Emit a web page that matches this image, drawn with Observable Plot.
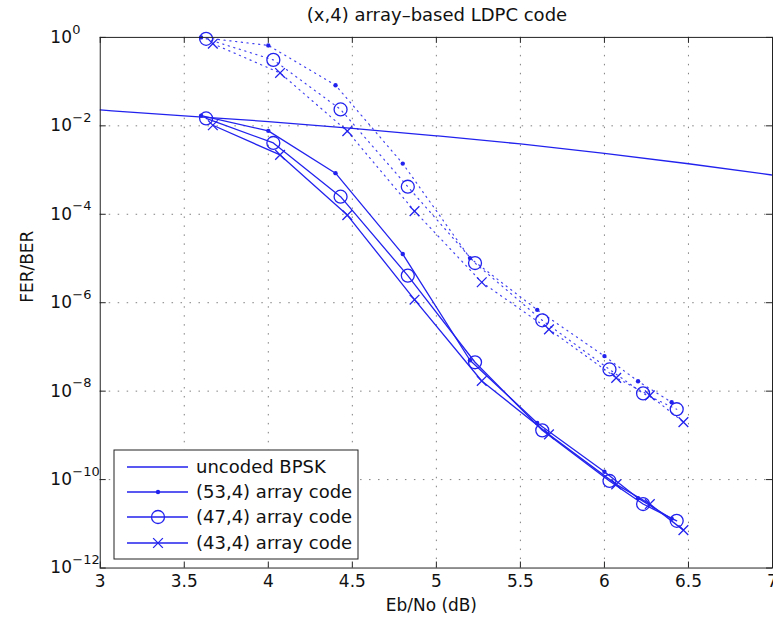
<!DOCTYPE html>
<html><head><meta charset="utf-8">
<script src="https://cdn.jsdelivr.net/npm/d3@7"></script>
<script src="https://cdn.jsdelivr.net/npm/@observablehq/plot@0.6"></script>
<style>
html,body{margin:0;padding:0;background:#fff;overflow:hidden;}
#wrap{position:relative;width:773px;height:635px;overflow:hidden;}
#chart{position:absolute;left:0;top:0;}
#title{position:absolute;left:100px;width:674px;top:5px;line-height:20px;text-align:center;font-family:"DejaVu Sans";font-size:18px;color:#111;}
#legend{position:absolute;left:113px;top:449px;}
</style></head><body>
<div id="wrap"><div id="chart"></div><div id="title">(x,4) array–based LDPC code</div><svg id="legend" width="246" height="111"></svg></div>
<script>
// ---- data ----
const xTicks = [3, 3.5, 4, 4.5, 5, 5.5, 6, 6.5, 7];
const xTickLabels = ["3", "3.5", "4", "4.5", "5", "5.5", "6", "6.5", "7"];
const yTicks = [1, 1e-2, 1e-4, 1e-6, 1e-8, 1e-10, 1e-12];
const yTickExp = ["0", "−2", "−4", "−6", "−8", "−10", "−12"];

const bpskX = [3, 3.5, 4, 4.5, 5, 5.5, 6, 6.5, 7];
const bpskY = [2.29e-2, 1.68e-2, 1.25e-2, 8.8e-3, 5.95e-3, 3.9e-3, 2.39e-3, 1.39e-3, 7.7e-4];

const x53 = [3.6, 4.0, 4.4, 4.8, 5.2, 5.6, 6.0, 6.2, 6.4];
const ber53 = [1.7e-2, 7.7e-3, 8.5e-4, 1.26e-5, 5e-8, 1.9e-9, 1.5e-10, 3.8e-11, 1.3e-11];
const fer53 = [1.0, 0.66, 0.083, 1.4e-3, 1.02e-5, 6.9e-7, 6.2e-8, 1.67e-8, 5.6e-9];

const x47 = [3.63, 4.03, 4.43, 4.83, 5.23, 5.63, 6.03, 6.23, 6.43];
const ber47 = [1.47e-2, 4.1e-3, 2.5e-4, 4.1e-6, 4.5e-8, 1.3e-9, 9.3e-11, 2.8e-11, 1.17e-11];
const fer47 = [0.93, 0.31, 0.0235, 4.2e-4, 7.9e-6, 4e-7, 3.1e-8, 8.9e-9, 3.9e-9];

const x43 = [3.67, 4.07, 4.47, 4.87, 5.27, 5.67, 6.07, 6.27, 6.47];
const ber43 = [1.03e-2, 2.2e-3, 9.6e-5, 1.17e-6, 1.7e-8, 1.05e-9, 7.8e-11, 2.8e-11, 7.2e-12];
const fer43 = [0.72, 0.157, 7.6e-3, 1.18e-4, 2.9e-6, 2.5e-7, 2.0e-8, 8e-9, 2e-9];

const legendLabels = ["uncoded BPSK", "(53,4) array code", "(47,4) array code", "(43,4) array code"];
const titleText = "(x,4) array–based LDPC code";
const xLabel = "Eb/No (dB)";
const yLabel = "FER/BER";

// ---- build ----
const blue = "#2222ee";
const rows = (xs, ys) => xs.map((x, i) => ({x, y: ys[i]}));
const bpsk = rows(bpskX, bpskY);
const b53 = rows(x53, ber53), f53 = rows(x53, fer53);
const b47 = rows(x47, ber47), f47 = rows(x47, fer47);
const b43 = rows(x43, ber43), f43 = rows(x43, fer43);
const yTickRows = yTicks.map((v, i) => ({v, e: yTickExp[i]}));
const xTickRows = xTicks.map((v, i) => ({v, t: xTickLabels[i]}));

const W = 775, H = 635, mL = 100, mR = 1, mT = 37, mB = 66;
const pw = W - mL - mR, ph = H - mT - mB;
const gridStyle = {stroke: "#808080", strokeWidth: 1, strokeDasharray: "1.5,7.5"};
const solid = {x: "x", y: "y", stroke: blue, strokeWidth: 1.3};
const dotted = {x: "x", y: "y", stroke: blue, strokeWidth: 1.2, strokeDasharray: "1.2,4.6", strokeOpacity: 0.85};

const plot = Plot.plot({
  width: W, height: H,
  marginLeft: mL, marginRight: mR, marginTop: mT, marginBottom: mB,
  style: {fontFamily: "DejaVu Sans", fontSize: "17px", color: "#111", background: "transparent", overflow: "visible"},
  x: {domain: [3, 7], axis: null},
  y: {type: "log", domain: [1e-12, 1], axis: null},
  marks: [
    Plot.ruleX(xTicks.slice(1, -1), gridStyle),
    Plot.ruleY(yTicks.slice(1, -1), gridStyle),
    Plot.line(bpsk, {...solid, curve: "monotone-x"}),
    Plot.line(b53, solid), Plot.line(b47, solid), Plot.line(b43, solid),
    Plot.line(f53, dotted), Plot.line(f47, dotted), Plot.line(f43, dotted),
    Plot.dot(b53, {x: "x", y: "y", r: 2.2, fill: blue}),
    Plot.dot(f53, {x: "x", y: "y", r: 2.2, fill: blue}),
    Plot.dot(b47, {x: "x", y: "y", r: 6.5, stroke: blue, strokeWidth: 1.3, fill: "none"}),
    Plot.dot(f47, {x: "x", y: "y", r: 6.5, stroke: blue, strokeWidth: 1.3, fill: "none"}),
    Plot.dot(b43, {x: "x", y: "y", r: 4.5, symbol: "times", stroke: blue, strokeWidth: 1.3}),
    Plot.dot(f43, {x: "x", y: "y", r: 4.5, symbol: "times", stroke: blue, strokeWidth: 1.3}),
    Plot.frame({stroke: "#222", strokeWidth: 1}),
    Plot.ruleX(xTicks, {stroke: "#222", insetTop: ph - 6}),
    Plot.ruleX(xTicks, {stroke: "#222", insetBottom: ph - 6}),
    Plot.ruleY(yTicks, {stroke: "#222", insetRight: pw - 6}),
    Plot.ruleY(yTicks, {stroke: "#222", insetLeft: pw - 6}),
    Plot.text(xTickRows, {x: "v", text: "t", frameAnchor: "bottom", dy: 19, fontSize: 17, fill: "#111"}),
    Plot.text(yTickRows, {y: "v", text: () => "10", frameAnchor: "left", dx: -50, textAnchor: "start", fontSize: 17, fill: "#111"}),
    Plot.text(yTickRows, {y: "v", text: "e", frameAnchor: "left", dx: -28, dy: -8, textAnchor: "start", fontSize: 13, fill: "#111"}),
    Plot.text([xLabel], {text: d => d, frameAnchor: "bottom", dx: -5, dy: 43, fontSize: 17, fill: "#111"}),
    Plot.text([yLabel], {text: d => d, frameAnchor: "left", dx: -73, rotate: -90, fontSize: 17, fill: "#111"})
  ]
});
document.getElementById("chart").appendChild(plot);
document.getElementById("title").textContent = titleText;

// ---- legend ----
const lg = d3.select("#legend");
lg.append("rect").attr("x", 1).attr("y", 1).attr("width", 244).attr("height", 109)
  .attr("fill", "#fff").attr("stroke", "#222").attr("stroke-width", 1);
const rowY = [18, 43, 68, 94];
legendLabels.forEach((lab, i) => {
  const y = rowY[i];
  lg.append("line").attr("x1", 14).attr("x2", 75).attr("y1", y).attr("y2", y)
    .attr("stroke", blue).attr("stroke-width", 1.3);
  if (i === 1) lg.append("circle").attr("cx", 45).attr("cy", y).attr("r", 2.2).attr("fill", blue);
  if (i === 2) lg.append("circle").attr("cx", 45).attr("cy", y).attr("r", 6.5).attr("fill", "none").attr("stroke", blue).attr("stroke-width", 1.3);
  if (i === 3) lg.append("path").attr("d", d3.symbol(d3.symbolTimes, Math.PI * 4.5 * 4.5)()).attr("transform", `translate(45,${y})`)
    .attr("fill", "none").attr("stroke", blue).attr("stroke-width", 1.3);
  lg.append("text").attr("x", 83).attr("y", y).attr("dy", "0.35em")
    .attr("font-family", "DejaVu Sans").attr("font-size", 18).attr("fill", "#111").text(lab);
});
</script>
</body></html>
